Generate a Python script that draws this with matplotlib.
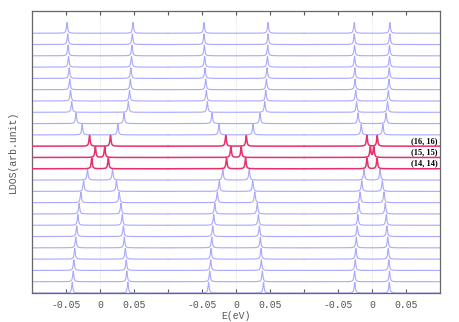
import numpy as np
import matplotlib
matplotlib.use("Agg")
import matplotlib.pyplot as plt

# state index (n, n), top row first
states = list(range(26, 2, -1))
highlight = [16, 15, 14]

# half splitting of the two peaks (eV) in each of the three windows, same order as states
split1 = [0.0485, 0.0475, 0.0470, 0.0463, 0.0453, 0.0446, 0.0434, 0.0416, 0.0353, 0.0262,
          0.0154, 0.0069, 0.0122, 0.0184, 0.0241, 0.0282, 0.0307, 0.0326, 0.0343, 0.0357,
          0.0372, 0.0385, 0.0394, 0.0409]
split2 = [0.0471, 0.0471, 0.0466, 0.0462, 0.0456, 0.0446, 0.0437, 0.0422, 0.0353, 0.0250,
          0.0151, 0.0076, 0.0140, 0.0194, 0.0246, 0.0276, 0.0312, 0.0328, 0.0343, 0.0357,
          0.0368, 0.0372, 0.0387, 0.0404]
split3 = [0.0262, 0.0262, 0.0257, 0.0257, 0.0253, 0.0250, 0.0240, 0.0228, 0.0206, 0.0159,
          0.0076, 0.0025, 0.0074, 0.0118, 0.0151, 0.0176, 0.0194, 0.0209, 0.0218, 0.0231,
          0.0238, 0.0247, 0.0257, 0.0254]

centers = [0.1, 0.3, 0.5]   # each window spans +-0.1 eV
tick_labels = ["-0.05", "0", "0.05", "", "-0.05", "0", "0.05", "", "-0.05", "0", "0.05"]

gamma = 0.001
blue = "#a8a8ff"
red = "#e8306a"
mono = "Liberation Mono"

def lorentz(e, e0):
    return gamma**2 / ((e - e0)**2 + gamma**2)

fig = plt.figure(figsize=(4.6, 3.22), dpi=100)
ax = fig.add_axes([0.0696, 0.090, 0.887, 0.877])

e = np.linspace(-0.1, 0.1, 4001)
nrows = len(states)
for i, n in enumerate(states):
    base = nrows - 1 - i
    hot = n in highlight
    for c, sp in zip(centers, (split1, split2, split3)):
        y = base + 0.95 * (lorentz(e, -sp[i]) + lorentz(e, sp[i]))
        ax.plot(c + e, y, color=red if hot else blue, lw=1.1 if hot else 0.8,
                zorder=3 if hot else 2)
    if hot:
        ax.text(0.597, base + 0.12, f"({n}, {n})", ha="right", va="bottom",
                fontsize=6, fontweight="bold", family="Liberation Serif", zorder=4)

for c in centers:
    ax.axvline(c, color="#d8d8d8", lw=0.6, ls=":", zorder=1)

ax.set_xlim(0, 0.6)
ax.set_ylim(0, nrows + 1)
ax.set_xticks(np.arange(0.05, 0.56, 0.05))
ax.set_xticklabels(tick_labels, family=mono, fontsize=7, color="#555555")
ax.set_yticks([])
ax.tick_params(axis="x", direction="in", top=True, length=3, color="#555555", pad=5)
for s in ax.spines.values():
    s.set_color("#666666")
    s.set_linewidth(0.9)
ax.set_xlabel("E(eV)", family=mono, fontsize=7, color="#555555", labelpad=1)
ax.set_ylabel("LDOS(arb.unit)", family=mono, fontsize=7, color="#555555", labelpad=10)

fig.savefig("out.png", dpi=100)
